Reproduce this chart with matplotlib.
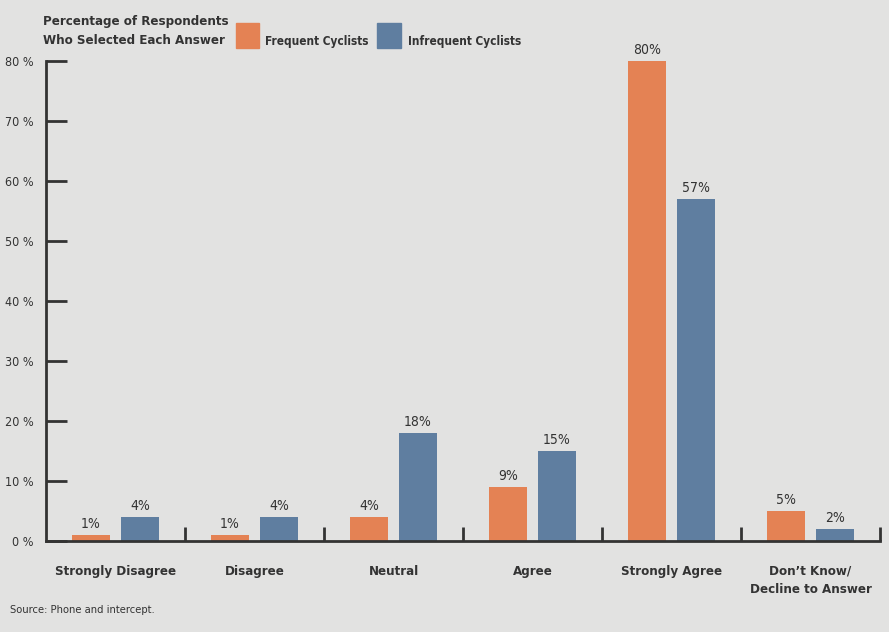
import matplotlib
matplotlib.use("Agg")
import matplotlib.pyplot as plt
import numpy as np

categories = ["Strongly Disagree", "Disagree", "Neutral", "Agree", "Strongly Agree", "Don\u2019t Know/\nDecline to Answer"]
frequent = [1, 1, 4, 9, 80, 5]
infrequent = [4, 4, 18, 15, 57, 2]
series_names = ["Frequent Cyclists", "Infrequent Cyclists"]
yticks = [0, 10, 20, 30, 40, 50, 60, 70, 80]

plt.rcParams['font.family'] = ['DejaVu Sans']
plt.rcParams['font.stretch'] = 'condensed'

BG = "#E2E2E1"
ORANGE = "#E48254"
BLUE = "#5F7EA0"
DARK = "#333333"

fig = plt.figure(figsize=(8.89, 6.32), dpi=100, facecolor=BG)
ax = fig.add_axes([46/889, (632-541)/632, (880-46)/889, (541-61)/632])
ax.set_facecolor(BG)

x = np.arange(len(categories))
w = 0.28
off = 0.176
b1 = ax.bar(x - off, frequent, w, color=ORANGE, zorder=2)
b2 = ax.bar(x + off, infrequent, w, color=BLUE, zorder=2)

for bars, vals in ((b1, frequent), (b2, infrequent)):
    for rect, v in zip(bars, vals):
        ax.text(rect.get_x() + rect.get_width()/2, v + 0.6, f"{v}%", ha="center", va="bottom",
                fontsize=10, color=DARK)

ax.set_xlim(-0.5, len(categories) - 0.5)
ax.set_ylim(0, 80)

for s in ["top", "right"]:
    ax.spines[s].set_visible(False)
for s in ["left", "bottom"]:
    ax.spines[s].set_color(DARK)
    ax.spines[s].set_linewidth(2)

ax.set_yticks(yticks)
ax.set_yticklabels([f"{t} %" for t in yticks], fontsize=9, color=DARK)
ax.tick_params(axis="y", direction="in", length=15, width=2, color=DARK, pad=9)

# x boundary ticks
ax.set_xticks(np.arange(len(categories)) + 0.5)
ax.set_xticklabels([])
ax.tick_params(axis="x", direction="in", length=10, width=2, color=DARK)

for xi, c in zip(x, categories):
    ax.text(xi, -4.0, c, ha="center", va="top", fontsize=9.5, fontweight="bold", color=DARK,
            linespacing=1.5)

fig.text(43/889, 1 - 31/632, "Percentage of Respondents\nWho Selected Each Answer", ha="left", va="center",
         fontsize=9.5, fontweight="bold", color=DARK, linespacing=1.65)

# legend
fig.patches.append(plt.Rectangle((236/889, 1 - 48/632), 23/889, 25/632, transform=fig.transFigure,
                                 color=ORANGE, figure=fig))
fig.text(265/889, 1 - 42/632, series_names[0], ha="left", va="center", fontsize=8.5, fontweight="bold", color=DARK)
fig.patches.append(plt.Rectangle((377/889, 1 - 48/632), 24/889, 25/632, transform=fig.transFigure,
                                 color=BLUE, figure=fig))
fig.text(408/889, 1 - 42/632, series_names[1], ha="left", va="center", fontsize=8.5, fontweight="bold", color=DARK)

fig.text(10/889, 1 - 610/632, "Source: Phone and intercept.", ha="left", va="center", fontsize=8, color=DARK)

fig.savefig("out.png", dpi=100, facecolor=BG)
